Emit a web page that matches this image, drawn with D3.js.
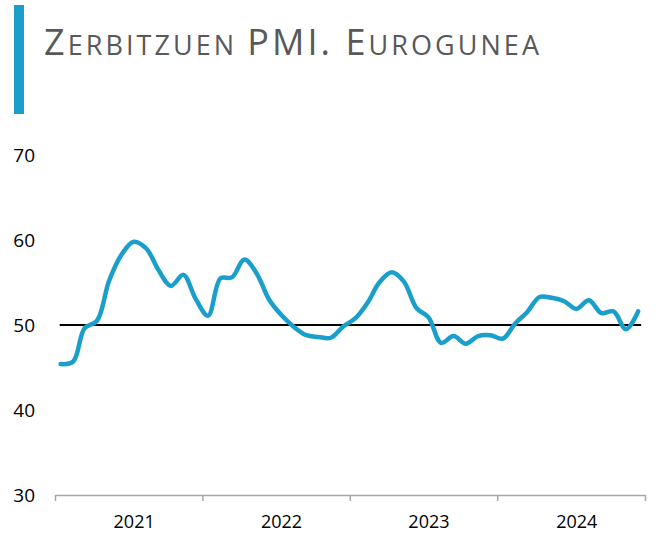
<!DOCTYPE html>
<html>
<head>
<meta charset="utf-8">
<script src="https://cdn.jsdelivr.net/npm/d3@7"></script>
<style>
  body { margin: 0; background: #fff; }
  text { font-family: "Open Sans", "Noto Sans", sans-serif; }
</style>
</head>
<body>
<svg id="chart" width="656" height="534"></svg>
<script>
// Zerbitzuen PMI, Eurogunea (monthly, 2021-01 .. 2024-12)
const years = [2021, 2022, 2023, 2024];
const pmi = [
  45.4, 45.7, 49.6, 50.5, 55.2, 58.3, 59.8, 59.0, 56.4, 54.6, 55.9, 53.1,
  51.1, 55.5, 55.6, 57.7, 56.1, 53.0, 51.2, 49.8, 48.8, 48.6, 48.5, 49.8,
  50.8, 52.7, 55.0, 56.2, 55.1, 52.0, 50.9, 47.9, 48.7, 47.8, 48.7, 48.8,
  48.4, 50.2, 51.5, 53.3, 53.2, 52.8, 51.9, 52.9, 51.4, 51.6, 49.5, 51.6
];
const yTicks = [30, 40, 50, 60, 70];
const threshold = 50;

const months = pmi.map((v, i) => new Date(years[0], i, 15));
const series = pmi.map((v, i) => ({ date: months[i], value: v }));

const svg = d3.select("#chart");
const blue = "#1a9fcb";

// title block
svg.append("rect")
  .attr("x", 14).attr("y", 5)
  .attr("width", 10).attr("height", 109)
  .attr("fill", blue);

// small caps by hand: big first letters, smaller rest
const titleParts = [
  ["Z", 36], ["ERBITZUEN ", 27], ["PMI. ", 36], ["E", 36], ["UROGUNEA", 27]
];
const title = svg.append("text")
  .attr("x", 44).attr("y", 55)
  .attr("fill", "#595959")
  .attr("textLength", 495)
  .attr("lengthAdjust", "spacing");
titleParts.forEach(p => {
  title.append("tspan").attr("font-size", p[1]).text(p[0]);
});

const x = d3.scaleTime()
  .domain([new Date(years[0], 0, 1), new Date(years[years.length - 1] + 1, 0, 1)])
  .range([55, 645]);
const y = d3.scaleLinear().domain([30, 70]).range([495, 155]);

// y labels
svg.append("g")
  .selectAll("text")
  .data(yTicks)
  .enter().append("text")
  .attr("x", 35)
  .attr("y", d => y(d))
  .attr("dy", "0.36em")
  .attr("text-anchor", "end")
  .attr("font-size", 19)
  .attr("fill", "#000")
  .text(d => d);

// x axis
const xAxis = d3.axisBottom(x)
  .tickValues(years.concat([years[years.length - 1] + 1]).map(yr => new Date(yr, 0, 1)))
  .tickSize(6)
  .tickSizeOuter(0)
  .tickFormat("");
const gx = svg.append("g")
  .attr("transform", "translate(0," + y(30) + ")")
  .call(xAxis);
gx.select(".domain").attr("stroke", "#a6a6a6").attr("stroke-width", 1.5);
gx.selectAll(".tick line").attr("stroke", "#a6a6a6").attr("stroke-width", 1.5);

// year labels sit a little right of the mid-year point, like the original
svg.append("g")
  .selectAll("text")
  .data(years)
  .enter().append("text")
  .attr("x", d => x(new Date(d, 6, 16)))
  .attr("y", 528)
  .attr("text-anchor", "middle")
  .attr("font-size", 18)
  .attr("fill", "#000")
  .text(d => d);

// 50 line
svg.append("line")
  .attr("x1", x(months[0]) - 1)
  .attr("x2", x(months[months.length - 1]) + 3)
  .attr("y1", y(threshold))
  .attr("y2", y(threshold))
  .attr("stroke", "#000")
  .attr("stroke-width", 2);

// PMI line
const line = d3.line()
  .x(d => x(d.date))
  .y(d => y(d.value))
  .curve(d3.curveCatmullRom.alpha(0.5));

svg.append("path")
  .datum(series)
  .attr("fill", "none")
  .attr("stroke", blue)
  .attr("stroke-width", 4.5)
  .attr("stroke-linecap", "round")
  .attr("stroke-linejoin", "round")
  .attr("d", line);
</script>
</body>
</html>
